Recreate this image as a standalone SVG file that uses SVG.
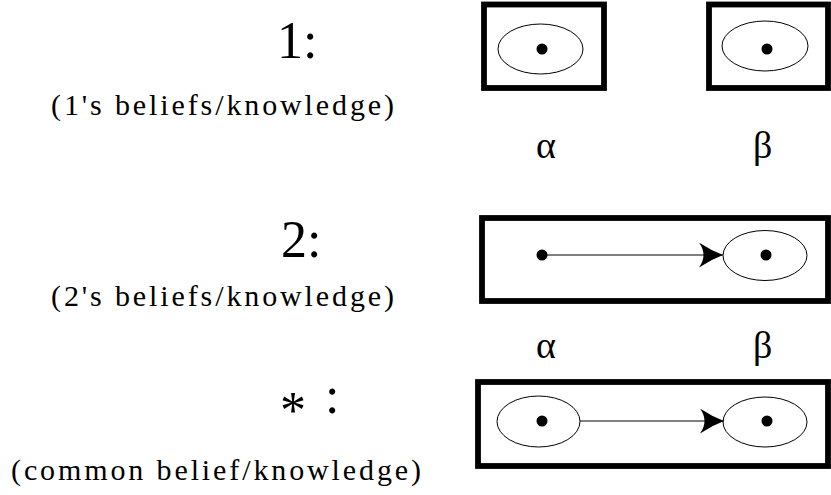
<svg xmlns="http://www.w3.org/2000/svg" width="831" height="495" viewBox="0 0 831 495">
<style>
  .frame { fill: none; stroke: #000; stroke-width: 5.8; }
  .world { fill: none; stroke: #000; stroke-width: 1; }
  .dot { fill: #000; }
  .edge { stroke: #000; stroke-width: 1; fill: none; }
  text { font-family: 'Liberation Serif', 'Times New Roman', serif; fill: #000; }
  .big { font-size: 52px; }
  .lab { font-size: 30px; }
  .greek { font-size: 38px; }
</style>
<defs>
  <marker id="arrow" markerUnits="userSpaceOnUse" markerWidth="26" markerHeight="26" refX="24" refY="12.5" orient="auto">
    <path d="M0,0 Q12,8 24,12.5 Q12,17 0,25 Q9,12.5 0,0 Z" fill="#000"/>
  </marker>
</defs>

<g id="labels">
  <text class="big" x="277" y="58">1:</text>
  <text class="lab" x="51" y="115" textLength="343" lengthAdjust="spacing">(1's beliefs/knowledge)</text>
  <text class="big" x="281" y="257">2:</text>
  <text class="lab" x="51" y="306" textLength="343" lengthAdjust="spacing">(2's beliefs/knowledge)</text>
  <text class="big" x="280" y="413"><tspan y="428">*</tspan> <tspan x="325" y="413">:</tspan></text>
  <text class="lab" x="11" y="480" textLength="410" lengthAdjust="spacing">(common belief/knowledge)</text>
</g>

<g id="row1-alpha">
  <rect class="frame" x="484" y="4.5" width="120" height="83.5"/>
  <ellipse class="world" cx="540.5" cy="49" rx="42.5" ry="25"/>
  <circle class="dot" cx="542" cy="49" r="5.5"/>
</g>
<g id="row1-beta">
  <rect class="frame" x="709" y="4.5" width="119" height="83.5"/>
  <ellipse class="world" cx="765" cy="46" rx="43" ry="25"/>
  <circle class="dot" cx="767" cy="49" r="5.5"/>
</g>
<g id="row1-names">
  <text class="greek" x="536" y="158">α</text>
  <text class="greek" x="753" y="158">β</text>
</g>

<g id="row2">
  <rect class="frame" x="482" y="218" width="346" height="83"/>
  <circle class="dot" cx="542" cy="255" r="5.5"/>
  <ellipse class="world" cx="765" cy="255.5" rx="42" ry="25"/>
  <circle class="dot" cx="766" cy="255" r="5.5"/>
</g>
<g id="row2-names">
  <text class="greek" x="536" y="358">α</text>
  <text class="greek" x="753" y="358">β</text>
</g>

<g id="row3">
  <rect class="frame" x="478" y="382" width="350" height="84"/>
  <ellipse class="world" cx="538.5" cy="421.5" rx="41.5" ry="25.5"/>
  <circle class="dot" cx="542" cy="421" r="5.5"/>
  <ellipse class="world" cx="765" cy="422" rx="42" ry="25"/>
  <circle class="dot" cx="767" cy="421" r="5.5"/>
</g>

<g id="connectors">
  <line class="edge" x1="542" y1="255" x2="723" y2="255" marker-end="url(#arrow)"/>
  <line class="edge" x1="580" y1="421" x2="724" y2="421" marker-end="url(#arrow)"/>
</g>
</svg>
